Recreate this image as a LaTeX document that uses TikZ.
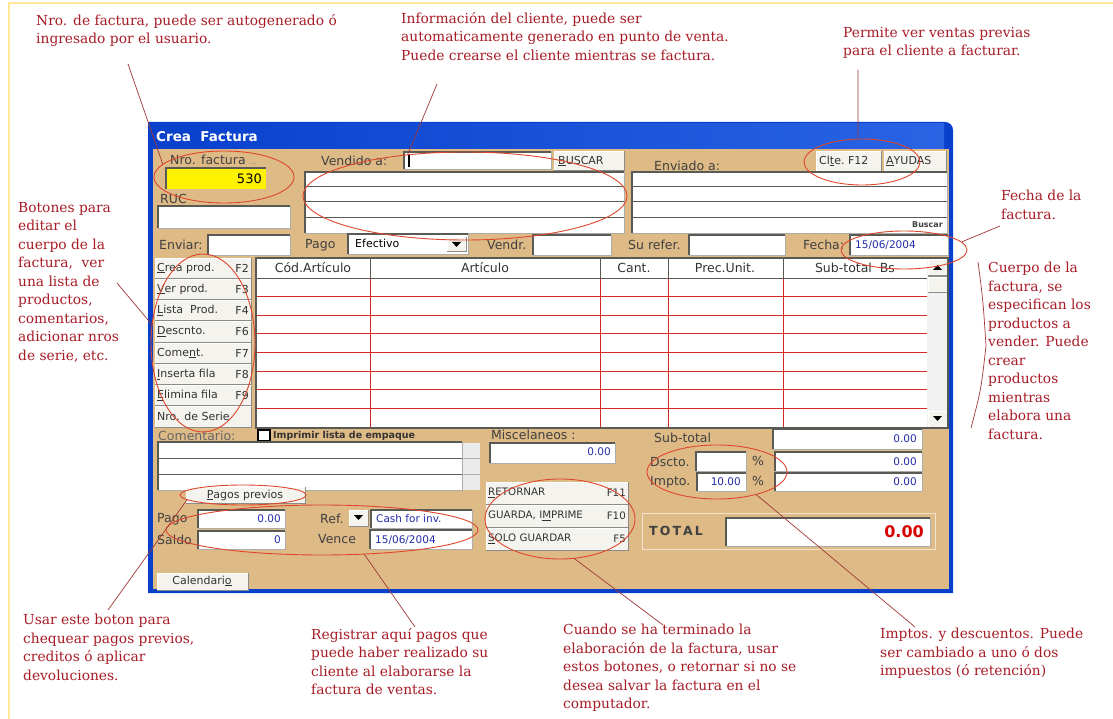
\documentclass[tikz,border=0pt]{standalone}
\usepackage{fontspec}
\setmainfont{Liberation Serif}
\setsansfont{DejaVu Sans}
\newfontfamily\notefont{DejaVu Serif}
\usetikzlibrary{shapes.geometric}
\definecolor{notered}{RGB}{168,28,38}
\definecolor{ringred}{RGB}{222,70,45}
\definecolor{linered}{RGB}{160,55,55}
\definecolor{wintan}{RGB}{222,186,134}
\definecolor{winblue}{RGB}{8,64,204}
\definecolor{titleblue}{RGB}{40,100,228}
\definecolor{gridred}{RGB}{214,40,40}
\definecolor{valblue}{RGB}{36,44,170}
\definecolor{btngray}{RGB}{244,243,238}
\definecolor{edgegray}{RGB}{90,90,84}
\definecolor{framegold}{RGB}{255,232,150}
% sunken white field: x1 y1 x2 y2
\newcommand{\fld}[4]{%
  \fill[white] (#1,#2) rectangle (#3,#4);
  \draw[edgegray!50, line width=0.6pt] (#1,#4) -- (#3,#4) -- (#3,#2);
  \draw[edgegray, line width=1.4pt] (#1,#4) -- (#1,#2) -- (#3,#2);}
% raised button: x1 y1 x2 y2
\newcommand{\btn}[4]{%
  \fill[btngray] (#1,#2) rectangle (#3,#4);
  \draw[white, line width=0.8pt] (#1,#4) -- (#1,#2) -- (#3,#2);
  \draw[edgegray!70, line width=1pt] (#1,#4) -- (#3,#4) -- (#3,#2);}

\begin{document}
\begin{tikzpicture}[x=1pt, y=-1pt, font=\sffamily,
    note/.style={font=\notefont\fontsize{13.8}{18.5}\selectfont, text=notered,
      align=left, anchor=north west, inner sep=0pt},
    ring/.style={ellipse, draw=ringred, line width=0.9pt, inner sep=0pt},
    callline/.style={draw=linered, line width=0.7pt},
    lbl/.style={font=\sffamily\fontsize{12.5}{14}\selectfont, text=black!75, anchor=west, inner sep=0pt},
    btnlbl/.style={font=\sffamily\fontsize{11}{12}\selectfont, text=black!80, anchor=west, inner sep=0pt},
    actlbl/.style={font=\sffamily\fontsize{10.3}{12}\selectfont, text=black!80, anchor=west, inner sep=0pt},
    val/.style={font=\sffamily\fontsize{10.5}{12}\selectfont, text=valblue, anchor=east, inner sep=0pt},
    hdr/.style={font=\sffamily\fontsize{12.5}{14}\selectfont, text=black!80, inner sep=0pt}]
  \useasboundingbox (0,0) rectangle (1113,719);
  \fill[white] (0,0) rectangle (1113,719);
  \draw[framegold, line width=2.5pt] (9,719) -- (9,3) -- (1113,3);

  % window
  \fill[winblue] (148,593) -- (148,122) {[rounded corners=8pt] -- (953,122) -- (953,300)} -- (953,593) -- cycle;
  \shade[left color=winblue, right color=titleblue] (150,124) rectangle (944,149);
  \fill[wintan] (153,149) rectangle (949,589);
  \node[anchor=west, text=white, font=\sffamily\fontsize{13.5}{16}\selectfont\bfseries, inner sep=0pt] (title) at (156,137) {Crea\ \ Factura};

  % top fields
  \node[lbl] (nrolbl) at (170,160) {Nro. factura \textcolor{black!45}{\fontsize{8}{9}\selectfont ...}};
  \fill[yellow] (166,168) rectangle (266,189);
  \draw[edgegray, line width=1.4pt] (166,189) |- (266,168);
  \node[val, text=black, font=\sffamily\fontsize{13}{14}\selectfont] (nroval) at (262,179) {530};
  \node[lbl] (ruclbl) at (160,199) {RUC};
  \fld{158}{206}{290}{228}
  \node[lbl] (venlbl) at (321,161) {Vendido a:};
  \fld{404}{152}{551}{169}
  \draw[black, line width=1.2pt] (409,155) -- (409,167);
  \btn{554}{151}{624}{171}
  \node[btnlbl] (buscar) at (558,161) {\underline{B}USCAR};
  \fld{305}{172}{624}{233}
  \foreach \y in {187,202,218} \draw[edgegray, line width=1pt] (306,\y) -- (624,\y);
  \node[lbl] (envlbl) at (654,166) {Enviado a:};
  \btn{816}{151}{881}{172}
  \node[btnlbl] (clte) at (819,161) {Cl\underline{t}e.\ F12};
  \btn{884}{151}{946}{172}
  \node[btnlbl] (ayudas) at (886,161) {\underline{A}YUDAS};
  \fld{632}{172}{947}{233}
  \foreach \y in {187,202,218} \draw[edgegray, line width=1pt] (633,\y) -- (947,\y);
  \node[font=\sffamily\fontsize{8}{9}\selectfont\bfseries, text=black!75, anchor=east, inner sep=0pt] (buscarb) at (943,225) {Buscar};

  \node[lbl] (enviarlbl) at (159,245) {Enviar:};
  \fld{208}{235}{290}{255}
  \node[lbl] (pagolbl) at (305,245) {Pago};
  \fld{348}{234}{468}{254}
  \node[btnlbl, text=black] (efectivo) at (355,243) {Efectivo};
  \btn{447}{237}{466}{252}
  \fill[black] (452,242) -- (461,242) -- (456.5,247) -- cycle;
  \node[lbl] (vendrlbl) at (487,245) {Vendr.};
  \fld{533}{235}{611}{255}
  \node[lbl] (referlbl) at (628,245) {Su refer.};
  \fld{689}{235}{785}{255}
  \node[lbl] (fechalbl) at (803,245) {Fecha:};
  \fld{850}{235}{948}{255}
  \node[val, anchor=west] (fechaval) at (855,245) {15/06/2004};

  % side buttons
  \foreach \t/\k [count=\i] in {{\underline{C}rea prod.}/F2, {\underline{V}er prod.}/F3,
      {\underline{L}ista\ \ Prod.}/F4, {\underline{D}escnto.}/F6, {Come\underline{n}t.}/F7,
      {\underline{I}nserta fila}/F8, {\underline{E}limina fila}/F9, {Nro. de Serie}/{}}{
    \pgfmathsetmacro\ytop{258+(\i-1)*21.25}
    \pgfmathsetmacro\ybot{\ytop+20.25}
    \btn{155}{\ytop}{251}{\ybot}
    \node[btnlbl] (side\i) at (157,{\ytop+10}) {\t};
    \node[btnlbl, anchor=east] (key\i) at (249,{\ytop+10}) {\k};
  }

  % grid
  \fill[white] (256,258) rectangle (927,428);
  \foreach \x in {370,600,668,783} \draw[gridred, line width=0.8pt] (\x,278) -- (\x,428);
  \foreach \i in {1,...,7} \draw[gridred, line width=0.8pt] (256,{278+\i*18.6}) -- (927,{278+\i*18.6});
  \draw[edgegray, line width=1pt] (256,258) rectangle (927,278);
  \foreach \x in {370,600,668,783} \draw[edgegray, line width=1pt] (\x,258) -- (\x,278);
  \node[hdr] (hcod) at (313,268) {Cód.Artículo};
  \node[hdr] (hart) at (485,268) {Artículo};
  \node[hdr] (hcant) at (634,268) {Cant.};
  \node[hdr] (hprec) at (725,268) {Prec.Unit.};
  \node[hdr] (hsub) at (855,268) {Sub-total\ \ Bs};
  \fill[black!5] (927,258) rectangle (948,428);
  \btn{928}{259}{947}{276}
  \fill[black] (933,270) -- (942,270) -- (937.5,265) -- cycle;
  \btn{928}{277}{947}{292}
  \btn{928}{411}{947}{427}
  \fill[black] (933,416) -- (942,416) -- (937.5,421) -- cycle;
  \draw[edgegray, line width=1.2pt] (256,258) rectangle (948,428);

  % comments
  \node[lbl, text=black!60] (comlbl) at (158,436) {Comentario:};
  \draw[black, line width=1.3pt, fill=white] (258,430) rectangle (270,441);
  \node[font=\sffamily\fontsize{9.5}{11}\selectfont\bfseries, text=black!80, anchor=west, inner sep=0pt] (imprimir) at (273,436) {Imprimir lista de empaque};
  \fld{158}{442}{462}{490}
  \foreach \y in {458,474} \draw[edgegray, line width=1pt] (159,\y) -- (462,\y);
  \fill[black!8] (463,443) rectangle (480,490);
  \foreach \y in {458,474} \draw[black!30] (463,\y) -- (480,\y);
  \node[lbl] (misclbl) at (491,435) {Miscelaneos :};
  \fld{490}{443}{615}{463}
  \node[val] (miscval) at (611,452) {0.00};

  % totals
  \node[lbl] (sublbl) at (654,438) {Sub-total};
  \fld{773}{429}{922}{449}
  \node[val] (subval) at (917,439) {0.00};
  \node[lbl] (dsclbl) at (650,462) {Dscto.};
  \fld{696}{452}{746}{471}
  \node[lbl] (pcta) at (752,461) {\%};
  \fld{775}{452}{922}{471}
  \node[val] (dscval) at (917,462) {0.00};
  \node[lbl] (implbl) at (650,482) {Impto.};
  \fld{697}{473}{746}{491}
  \node[val] (imprate) at (741,482) {10.00};
  \node[lbl] (pctb) at (752,481) {\%};
  \fld{775}{473}{922}{491}
  \node[val] (impval) at (917,482) {0.00};

  \foreach \t/\k [count=\i] in {{\underline{R}ETORNAR}/F11, {GUARDA, I\underline{M}PRIME}/F10,
      {\underline{S}OLO GUARDAR}/F5}{
    \pgfmathsetmacro\ytop{482+(\i-1)*23}
    \btn{486}{\ytop}{628}{\ytop+22}
    \node[actlbl] (act\i) at (488,{\ytop+11}) {\t};
    \node[actlbl, anchor=east] (actkey\i) at (626,{\ytop+11}) {\k};
  }
  \draw[white!60!wintan, line width=1pt] (642,513) rectangle (935,549);
  \node[font=\sffamily\fontsize{12.5}{14}\selectfont\bfseries, text=black!75, anchor=west, inner sep=0pt] (totlbl) at (649,531) {T\,O\,T\,A\,L};
  \fld{726}{518}{930}{546}
  \node[font=\sffamily\fontsize{16}{18}\selectfont\bfseries, text=red!85!black, anchor=east, inner sep=0pt] (totval) at (924,532) {0.00};

  % payments
  \btn{186}{487}{305}{503}
  \node[btnlbl, anchor=center] (pagosbtn) at (245,495) {\underline{P}agos previos};
  \node[lbl] (paylbl) at (157,519) {Pago};
  \fld{198}{510}{285}{528}
  \node[val] (payval) at (281,519) {0.00};
  \node[lbl] (saldolbl) at (157,540) {Saldo};
  \fld{198}{531}{285}{549}
  \node[val] (saldoval) at (281,540) {0};
  \node[lbl] (reflbl) at (320,519) {Ref.};
  \btn{349}{510}{368}{526}
  \fill[black] (354,515) -- (363,515) -- (358.5,520) -- cycle;
  \fld{371}{510}{472}{528}
  \node[val, anchor=west] (refval) at (376,519) {Cash for inv.};
  \node[lbl] (vencelbl) at (318,539) {Vence};
  \fld{370}{530}{472}{549}
  \node[val, anchor=west] (venceval) at (375,540) {15/06/2004};
  \btn{157}{573}{248}{590}
  \node[btnlbl, anchor=center] (calbtn) at (202,581) {Calendari\underline{o}};

  % red rings
  \node[ring, minimum width=140pt, minimum height=52pt] (nroring) at (224,177) {};
  \node[ring, minimum width=324pt, minimum height=88pt] (venring) at (465,196) {};
  \node[ring, minimum width=116pt, minimum height=46pt] (clientring) at (862,162) {};
  \node[ring, minimum width=126pt, minimum height=38pt] (fecharing) at (904,250) {};
  \node[ring, minimum width=104pt, minimum height=178pt] (sidering) at (203,343) {};
  \node[ring, minimum width=126pt, minimum height=20pt] (pagosring) at (243,495) {};
  \node[ring, minimum width=312pt, minimum height=50pt] (pagoring) at (322,530) {};
  \node[ring, minimum width=150pt, minimum height=80pt] (guardring) at (560,519) {};
  \node[ring, minimum width=140pt, minimum height=54pt] (imptoring) at (717,472) {};

  % notes
  \node[note] (nronote) at (36,14) {Nro. de factura, puede ser autogenerado ó\\ingresado por el usuario.};
  \node[note] (infonote) at (401,12) {Información del cliente, puede ser\\automaticamente generado en punto de venta.\\Puede crearse el cliente mientras se factura.};
  \node[note] (permnote) at (843,27) {Permite ver ventas previas\\para el cliente a facturar.};
  \node[note] (sidenote) at (18,202) {Botones para\\editar el\\cuerpo de la\\factura,\ \ ver\\una lista de\\productos,\\comentarios,\\adicionar nros\\de serie, etc.};
  \node[note] (fechanote) at (1001,190) {Fecha de la\\factura.};
  \node[note] (bodynote) at (988,262) {Cuerpo de la\\factura, se\\especifican los\\productos a\\vender. Puede\\crear\\productos\\mientras\\elabora una\\factura.};
  \node[note] (usarnote) at (23,614) {Usar este boton para\\chequear pagos previos,\\creditos ó aplicar\\devoluciones.};
  \node[note] (regnote) at (311,628) {Registrar aquí pagos que\\puede haber realizado su\\cliente al elaborarse la\\factura de ventas.};
  \node[note] (cuandonote) at (563,624) {Cuando se ha terminado la\\elaboración de la factura, usar\\estos botones, o retornar si no se\\desea salvar la factura en el\\computador.};
  \node[note] (imptonote) at (880,628) {Imptos. y descuentos. Puede\\ser cambiado a uno ó dos\\impuestos (ó retención)};

  % pointers
  \coordinate (nrotail) at (128,64);
  \coordinate (infotail) at (437,84);
  \coordinate (permtail) at (858,70);
  \coordinate (fechatail) at (1000,226);
  \coordinate (sidetail) at (117,283);
  \coordinate (bodytop) at (978,262);
  \coordinate (bodymid) at (986,346);
  \coordinate (bodybot) at (971,428);
  \coordinate (usartail) at (108,610);
  \coordinate (regtail) at (415,627);
  \coordinate (cuandotail) at (663,625);
  \coordinate (imptotail) at (915,627);
  \draw[callline] (nrotail) -- (nroring.168);
  \draw[callline] (infotail) -- (venring.144);
  \draw[callline] (permtail) -- (clientring.100);
  \draw[callline] (fechatail) -- (fecharing.8);
  \draw[callline] (sidetail) -- (sidering.160);
  \draw[callline] (bodytop) .. controls (983,300) .. (bodymid) .. controls (981,390) .. (bodybot);
  \draw[callline] (usartail) -- (pagosring.185);
  \draw[callline] (regtail) -- (pagoring.-30);
  \draw[callline] (cuandotail) -- (guardring.-70);
  \draw[callline] (imptotail) -- (imptoring.-30);
\end{tikzpicture}
\end{document}
